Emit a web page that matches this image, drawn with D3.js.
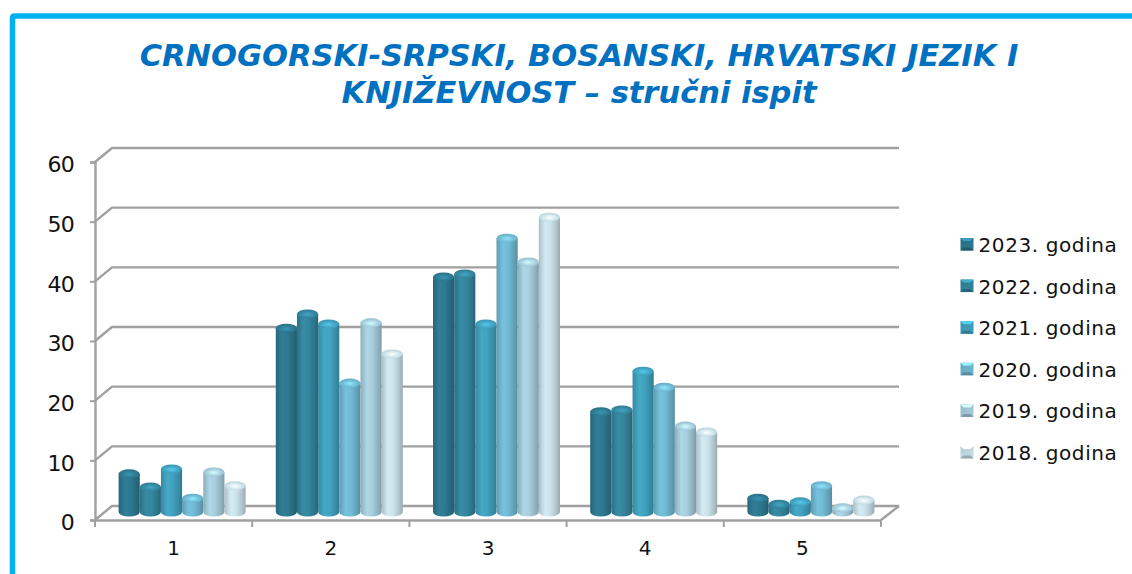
<!DOCTYPE html>
<html>
<head>
<meta charset="utf-8">
<script src="https://cdn.jsdelivr.net/npm/d3@7"></script>
<style>
    html, body { margin: 0; padding: 0; background: #fff; overflow: hidden; }
    text { font-family: "DejaVu Sans", Verdana, sans-serif; fill: #111; }
</style>
</head>
<body>
<div id="chart"></div>
<script>
    let categories = ["1", "2", "3", "4", "5"];
    let seriesNames = ["2023. godina", "2022. godina", "2021. godina", "2020. godina", "2019. godina", "2018. godina"];
    let v2023 = [6.4, 30.8, 39.4, 16.8, 2.3];
    let v2022 = [4.2, 33.2, 39.9, 17.1, 1.3];
    let v2021 = [7.2, 31.5, 31.5, 23.6, 1.7];
    let v2020 = [2.3, 21.6, 45.9, 20.9, 4.4];
    let v2019 = [6.7, 31.7, 41.9, 14.4, 0.7];
    let v2018 = [4.4, 26.5, 49.4, 13.4, 2.0];
    let yTicks = [0, 10, 20, 30, 40, 50, 60];
    let colors = ["#2e7a92", "#35879f", "#42a3c0", "#72bbd5", "#a8cfdf", "#cce3ec"];

    let allSeries = [v2023, v2022, v2021, v2020, v2019, v2018];

    let w = 1132;
    let h = 574;
    let depthX = 17;
    let depthY = 13;

    let svg = d3.select("#chart")
        .append("svg")
        .attr("width", w)
        .attr("height", h);

    let defs = svg.append("defs");

    // frame, only top and left edges are visible
    svg.append("path")
        .attr("d", "M12.5 574 V18 Q12.5 16 14.5 16 H1132")
        .attr("fill", "none")
        .attr("stroke", "#00b0f0")
        .attr("stroke-width", 5.5);

    let title = svg.append("text")
        .attr("text-anchor", "middle")
        .attr("font-size", 30.5)
        .attr("font-weight", "bold")
        .attr("font-style", "italic")
        .style("fill", "#0070c0");
    title.append("tspan").attr("x", 579).attr("y", 66)
        .text("CRNOGORSKI-SRPSKI, BOSANSKI, HRVATSKI JEZIK I");
    title.append("tspan").attr("x", 579).attr("y", 103)
        .text("KNJIŽEVNOST – stručni ispit");

    let x = d3.scaleBand().domain(categories).range([95, 881]);
    let y = d3.scaleLinear().domain([0, 60]).range([520, 162]);
    let series = d3.scaleBand().domain(d3.range(seriesNames.length))
        .range([0, 127]);

    let wallColor = "#a0a0a0";

    // back wall and floor
    let wall = svg.append("g")
        .attr("fill", "none")
        .attr("stroke", wallColor)
        .attr("stroke-width", 2.4);

    wall.selectAll(".grid")
        .data(yTicks)
        .enter()
        .append("polyline")
        .attr("class", "grid")
        .attr("points", (d) => [
            [x.range()[0], y(d)],
            [x.range()[0] + depthX, y(d) - depthY - 1],
            [x.range()[1] + depthX + 1, y(d) - depthY - 1]
        ].join(" "));

    wall.append("polyline")
        .attr("points", [
            [x.range()[1], y(0)],
            [x.range()[1] + depthX + 1, y(0) - depthY - 1]
        ].join(" "));

    let yAxis = d3.axisLeft(y)
        .tickValues(yTicks)
        .tickSize(5)
        .tickPadding(16);

    let yG = svg.append("g")
        .attr("transform", "translate(95,0)")
        .call(yAxis);
    yG.selectAll("text")
        .attr("font-size", 22)
        .attr("font-family", null)
        .attr("dy", "0.45em")
        .style("letter-spacing", "-0.8px");
    yG.selectAll("line").attr("stroke", wallColor).attr("stroke-width", 2);
    yG.select(".domain").attr("stroke", wallColor).attr("stroke-width", 2.4);

    let xAxis = d3.axisBottom(x)
        .tickSize(0)
        .tickPadding(21);

    let xG = svg.append("g")
        .attr("transform", "translate(0,520)")
        .call(xAxis);
    xG.selectAll("text").attr("font-size", 20).attr("font-family", null);
    xG.select(".domain").attr("stroke", wallColor).attr("stroke-width", 2.4);

    xG.selectAll(".sep")
        .data(d3.range(categories.length + 1))
        .enter()
        .append("line")
        .attr("class", "sep")
        .attr("x1", (d) => x.range()[0] + d * x.step())
        .attr("x2", (d) => x.range()[0] + d * x.step())
        .attr("y1", 0)
        .attr("y2", 7)
        .attr("stroke", wallColor)
        .attr("stroke-width", 2);

    // cylinder shading, one gradient per series
    colors.forEach((c, i) => {
        let body = defs.append("linearGradient").attr("id", "body" + i);
        let stops = [
            [0, d3.rgb(c).darker(0.5)],
            [0.3, d3.rgb(c).brighter(0.1)],
            [0.55, d3.rgb(c)],
            [0.85, d3.rgb(c).darker(0.45)],
            [1, d3.rgb(c).darker(0.8)]
        ];
        stops.forEach((s) => {
            body.append("stop").attr("offset", s[0]).attr("stop-color", s[1]);
        });

        let cap = defs.append("radialGradient").attr("id", "cap" + i)
            .attr("cx", 0.5).attr("cy", 0.55).attr("r", 0.6);
        cap.append("stop").attr("offset", 0).attr("stop-color", d3.rgb(c).brighter(0.6));
        cap.append("stop").attr("offset", 0.6).attr("stop-color", d3.rgb(c));
        cap.append("stop").attr("offset", 1).attr("stop-color", d3.rgb(c).darker(0.3));

        let bevel = defs.append("linearGradient").attr("id", "key" + i)
            .attr("x1", 0).attr("y1", 0).attr("x2", 1).attr("y2", 1);
        bevel.append("stop").attr("offset", 0).attr("stop-color", d3.rgb(c).darker(0.3));
        bevel.append("stop").attr("offset", 1).attr("stop-color", d3.rgb(c).darker(0.05));
    });

    let barBase = 512;
    let capRy = 4.5;
    let shiftX = 8.5;

    let groups = svg.selectAll(".group")
        .data(categories)
        .enter()
        .append("g")
        .attr("class", "group")
        .attr("transform", (d) => "translate(" + (x(d) + (x.bandwidth() - series.range()[1]) / 2 + shiftX) + ",0)");

    // values sit half a floor depth behind the front axis
    let yBar = (v) => barBase - (y(0) - y(v));

    groups.each(function(cat, ci) {
        let g = d3.select(this);
        allSeries.forEach((vals, si) => {
            let left = series(si);
            let bw = series.bandwidth();
            let rx = bw / 2;
            let top = yBar(vals[ci]);
            g.append("path")
                .attr("d", "M" + left + " " + top
                    + " V" + barBase
                    + " A" + rx + " " + capRy + " 0 0 0 " + (left + bw) + " " + barBase
                    + " V" + top + " Z")
                .attr("fill", "url(#body" + si + ")");
            g.append("ellipse")
                .attr("cx", left + rx)
                .attr("cy", top)
                .attr("rx", rx)
                .attr("ry", capRy)
                .attr("fill", "url(#cap" + si + ")");
        });
    });

    // legend
    let legend = svg.selectAll(".key")
        .data(seriesNames)
        .enter()
        .append("g")
        .attr("class", "key")
        .attr("transform", (d, i) => "translate(960.5," + (244 + i * 41.6) + ")");

    legend.append("rect")
        .attr("x", 0)
        .attr("y", -6)
        .attr("width", 13)
        .attr("height", 12.5)
        .attr("fill", (d, i) => "url(#key" + i + ")");

    legend.append("path")
        .attr("d", "M0 -6 H13 L10 -3 H3 Z")
        .attr("fill", (d, i) => d3.rgb(colors[i]).brighter(0.7));

    legend.append("path")
        .attr("d", "M0 6.5 H13 L10 3.5 H3 Z")
        .attr("fill", (d, i) => d3.rgb(colors[i]).darker(0.8));

    legend.append("text")
        .attr("x", 18)
        .attr("y", 8)
        .attr("font-size", 20)
        .style("letter-spacing", "0.6px")
        .text((d) => d);
</script>
</body>
</html>
